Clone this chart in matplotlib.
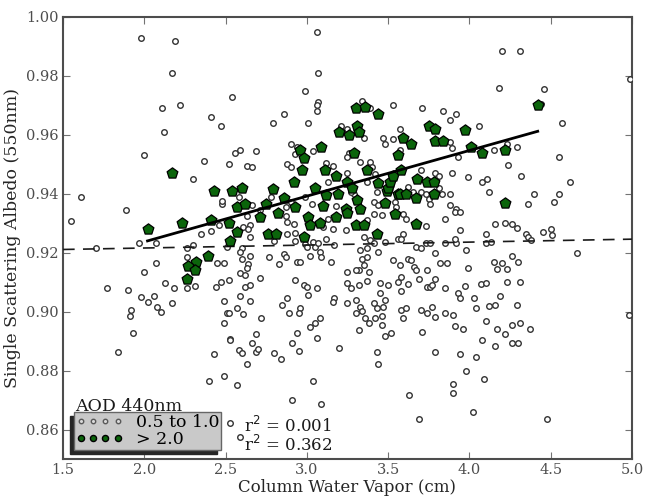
# Single scattering albedo vs column water vapor, coloured by AOD class

import matplotlib
matplotlib.use('Agg')
import matplotlib.pyplot as plt
from matplotlib.lines import Line2D
import numpy as np

# AOD 440nm 0.5 to 1.0 (open circles)
cwv_low = [1.98, 2.19, 2.17, 2.11, 2.22, 2.12, 2.00, 2.54, 2.41, 2.47, 2.37, 2.30, 2.56, 2.59, 2.69,
           2.52, 2.63, 2.66, 2.79, 2.86, 3.06, 3.07, 2.99, 3.07, 3.06, 3.06, 3.01, 2.90, 2.94, 2.93,
           3.04, 2.88, 2.90, 3.12, 3.16, 3.34, 3.39, 3.53, 3.21, 3.25, 3.35, 3.47, 3.48, 3.53, 3.26,
           3.25, 3.33, 3.39, 3.40, 3.13, 3.25, 3.42, 3.37, 3.43, 3.29,
           4.20, 4.31, 4.18, 4.46, 4.44, 4.57, 3.71, 3.84, 3.88, 3.92, 4.06, 3.57, 3.88, 3.89, 3.57,
           3.56, 3.93, 4.15, 4.23, 4.29, 4.24, 4.32, 4.55, 4.62, 3.89, 3.99, 4.08, 4.11, 3.70, 3.79,
           3.81, 4.40, 4.55, 4.12, 3.88, 4.99,
           2.58, 2.48, 2.78, 2.99, 3.03, 3.18,
           3.27, 3.62, 3.65, 3.70, 3.73, 3.81, 3.83, 3.54, 3.55, 3.75, 3.76, 3.88, 3.92, 3.41, 3.44,
           2.48, 2.66, 2.71, 2.87, 2.90, 2.63, 2.65, 2.46, 2.41, 2.35, 2.61, 2.64, 2.87, 2.88, 2.92,
           2.65, 2.80, 2.88, 2.93, 3.10, 3.13, 3.16, 3.12, 3.04, 3.05, 3.07, 2.93, 2.99, 3.00, 3.17,
           2.60, 2.59, 2.51, 2.30, 2.26, 2.26, 2.45, 2.49, 2.60, 2.65, 2.64, 2.77, 2.83, 2.86, 2.87,
           2.94, 2.96, 3.02, 3.08, 3.09, 3.15, 2.59, 2.63, 2.62, 2.71, 2.52, 2.47, 2.44, 2.31, 2.26,
           2.62, 2.65, 2.93, 2.98, 3.00, 3.01, 3.06, 3.17, 3.16, 2.49, 2.59, 2.65, 2.88, 2.85, 2.51,
           2.57, 2.89, 2.96, 2.95, 2.72,
           3.24, 3.41, 3.37, 3.46, 3.59, 3.61, 3.73, 3.85, 3.91, 3.94, 3.94, 4.10, 3.59, 3.56, 3.58,
           3.35, 3.39, 3.41, 3.48, 3.44, 3.37, 3.33, 3.34, 3.35, 3.32, 3.38, 3.37, 3.67, 3.70, 3.73,
           3.76, 3.85, 3.92, 3.91, 3.98, 4.10, 3.79, 3.82, 3.86, 3.53, 3.57, 3.62, 3.64, 3.66, 3.67,
           3.74, 3.99, 3.25, 3.30, 3.37, 3.32, 3.25, 3.27, 3.45, 3.45, 3.50, 3.56, 3.58, 3.58, 3.62,
           3.69, 3.74, 3.76, 3.77, 3.85, 3.79, 3.97, 4.07, 4.10, 3.93, 3.94, 4.03, 3.25, 3.30, 3.33,
           3.41, 3.43, 3.48, 3.47, 3.58, 3.61, 3.70, 3.74, 3.77, 3.85, 3.90, 4.04, 3.46, 3.36,
           4.36, 4.52, 4.16, 4.22, 4.26, 4.29, 4.35, 4.36, 4.38, 4.45, 4.50, 4.51, 4.66, 4.26, 4.30,
           4.23, 4.17, 4.20, 4.15, 4.23, 4.31, 4.19, 4.29, 4.12, 4.16, 4.10, 4.26, 4.31, 4.37, 4.17,
           4.22, 4.08, 4.16, 4.26, 4.30, 3.94, 4.04, 3.79, 3.98, 4.09, 3.90, 3.90, 3.63, 3.69, 4.02,
           4.48, 4.98, 3.43, 3.44, 3.71, 3.52, 3.48, 3.59, 3.32, 3.38, 3.42, 3.46, 3.79, 3.91, 3.96,
           4.13,
           2.52, 2.61, 2.49, 2.53, 2.43, 2.69, 2.66, 2.58, 2.60, 2.69, 2.70, 2.63, 2.80, 2.84, 2.94,
           2.91, 2.95, 3.02, 3.05, 3.08, 3.06, 2.40, 2.49, 2.57, 3.04, 2.91, 3.09, 3.20, 3.30, 3.34,
           2.53, 2.59,
           1.89, 1.97, 2.07, 1.77, 1.90, 2.07, 2.00, 2.13, 2.18, 1.98, 2.02, 2.06, 2.08, 2.10, 1.92,
           1.91, 2.17, 1.93, 1.84, 2.53, 1.55, 1.61, 1.70]
ssa_low = [0.993, 0.992, 0.981, 0.969, 0.970, 0.961, 0.953, 0.973, 0.966, 0.963, 0.951, 0.945, 0.954, 0.955, 0.9545,
           0.950, 0.9496, 0.949, 0.964, 0.967, 0.995, 0.981, 0.975, 0.971, 0.968, 0.970, 0.964, 0.957, 0.956, 0.9535,
           0.9546, 0.950, 0.949, 0.9505, 0.9496, 0.9715, 0.969, 0.970, 0.963, 0.962, 0.959, 0.9588, 0.957, 0.9585, 0.954,
           0.9526, 0.9507, 0.9507, 0.949, 0.944, 0.947, 0.9466, 0.944, 0.9407, 0.940,
           0.9885, 0.9885, 0.976, 0.9755, 0.9705, 0.964, 0.969, 0.968, 0.965, 0.967, 0.963, 0.962, 0.9575, 0.9556, 0.955,
           0.9537, 0.9526, 0.955, 0.957, 0.956, 0.9497, 0.946, 0.9524, 0.944, 0.947, 0.9456, 0.944, 0.945, 0.948, 0.947,
           0.946, 0.940, 0.940, 0.9407, 0.940, 0.979,
           0.939, 0.9365, 0.939, 0.939, 0.9365, 0.936,
           0.9405, 0.9424, 0.9407, 0.9407, 0.940, 0.9418, 0.940, 0.9373, 0.9354, 0.9384, 0.9367, 0.9362, 0.935, 0.9373, 0.9362,
           0.9375, 0.9362, 0.9345, 0.9354, 0.9373, 0.9324, 0.9294, 0.9294, 0.9274, 0.9263, 0.9286, 0.928, 0.9324, 0.9305, 0.9297,
           0.9254, 0.924, 0.9265, 0.9268, 0.9286, 0.9313, 0.9279, 0.9245, 0.9237, 0.922, 0.9232, 0.924, 0.9229, 0.9218, 0.9226,
           0.9215, 0.9203, 0.922, 0.9226, 0.9215, 0.9186, 0.9164, 0.9164, 0.9177, 0.9188, 0.9161, 0.9184, 0.9161, 0.9195, 0.9186,
           0.9169, 0.9169, 0.9188, 0.9203, 0.9186, 0.9169, 0.913, 0.9147, 0.9124, 0.9113, 0.9107, 0.9101, 0.9082, 0.9087, 0.9079,
           0.9084, 0.909, 0.9107, 0.909, 0.9082, 0.9056, 0.9079, 0.9045, 0.9033, 0.9037, 0.9053, 0.9036, 0.9045, 0.9022, 0.8996,
           0.9011, 0.8994, 0.9011, 0.8994, 0.8977,
           0.9277, 0.9333, 0.9311, 0.9328, 0.9331, 0.9313, 0.929, 0.9313, 0.9339, 0.9339, 0.9277, 0.9265, 0.9265, 0.9248, 0.9245,
           0.9254, 0.9243, 0.9234, 0.9237, 0.9203, 0.9215, 0.9209, 0.918, 0.9158, 0.914, 0.9135, 0.9184, 0.922, 0.9215, 0.9234,
           0.9234, 0.9234, 0.9234, 0.9248, 0.9209, 0.9232, 0.9198, 0.9164, 0.9166, 0.9175, 0.9158, 0.918, 0.9175, 0.9152, 0.9141,
           0.9141, 0.9147, 0.9135, 0.914, 0.9105, 0.909, 0.9096, 0.9079, 0.9098, 0.9064, 0.909, 0.9101, 0.9116, 0.9071, 0.9093,
           0.911, 0.9082, 0.9082, 0.909, 0.9079, 0.911, 0.9087, 0.9093, 0.9096, 0.9062, 0.9048, 0.9045, 0.9028, 0.9039, 0.9016,
           0.9028, 0.9014, 0.9039, 0.9016, 0.9007, 0.9014, 0.9007, 0.8994, 0.9016, 0.8994, 0.8988, 0.9011, 0.8985, 0.898,
           0.9365, 0.9373, 0.9297, 0.9302, 0.9297, 0.9283, 0.9265, 0.9254, 0.9243, 0.9269, 0.9279, 0.926, 0.9198, 0.9188, 0.9167,
           0.9144, 0.9144, 0.9166, 0.9167, 0.9101, 0.9101, 0.9054, 0.9021, 0.9019, 0.9022, 0.8968, 0.8954, 0.896, 0.894, 0.894,
           0.8924, 0.8903, 0.8884, 0.8894, 0.8892, 0.8855, 0.8845, 0.8862, 0.8798, 0.8771, 0.8756, 0.8724, 0.8717, 0.8637, 0.8658,
           0.8637, 0.899, 0.8864, 0.8822, 0.8931, 0.8926, 0.8917, 0.898, 0.8937, 0.8962, 0.8977, 0.8954, 0.8982, 0.8952, 0.894,
           0.9237,
           0.8994, 0.8992, 0.8962, 0.8906, 0.8856, 0.8923, 0.8895, 0.8869, 0.886, 0.8864, 0.8872, 0.8824, 0.8858, 0.8838, 0.8926,
           0.8894, 0.8867, 0.8948, 0.8962, 0.8977, 0.8912, 0.8764, 0.8781, 0.875, 0.8764, 0.870, 0.8688, 0.8878, 0.8996, 0.9003,
           0.8622, 0.8575,
           0.9345, 0.9232, 0.9232, 0.9079, 0.9073, 0.9166, 0.9135, 0.9098, 0.9079, 0.905, 0.9033, 0.9053, 0.9016, 0.900, 0.9005,
           0.8985, 0.9028, 0.8928, 0.8862, 0.8903, 0.9308, 0.939, 0.9215]

# AOD 440nm > 2.0 (green pentagons)
cwv_high = [2.02, 2.17, 2.23, 2.41, 2.52, 2.57, 2.53, 2.39, 2.32, 2.27, 2.31, 2.26, 2.43, 2.54, 2.60,
            2.57, 2.62, 2.71, 2.75, 2.79, 2.82, 2.76, 2.81, 2.86, 2.92, 2.93, 2.96, 2.98, 2.97, 2.98,
            3.01, 3.02, 3.05, 3.08, 3.09, 3.10, 3.11, 3.12, 3.18, 3.18, 3.19, 3.20, 3.24, 3.25, 3.25,
            3.26, 3.28, 3.29, 3.30, 3.31, 3.32, 3.31, 3.33, 3.30, 3.35, 3.36, 3.37, 3.44, 3.44, 3.43,
            3.48, 3.49, 3.50, 3.51, 3.53, 3.54, 3.56, 3.56, 3.57, 3.58, 3.59, 3.61, 3.64, 3.67, 3.67,
            3.68, 3.74, 3.75, 3.78, 3.78, 3.79, 3.79, 3.84, 3.97, 4.01, 4.08, 4.22, 4.22, 4.42]
ssa_high = [0.928, 0.947, 0.930, 0.931, 0.930, 0.927, 0.924, 0.919, 0.917, 0.9155, 0.914, 0.911, 0.941, 0.941, 0.942,
            0.9355, 0.9367, 0.932, 0.9367, 0.9415, 0.9335, 0.9265, 0.9265, 0.9385, 0.944, 0.9356, 0.955, 0.952, 0.948, 0.9254,
            0.932, 0.9294, 0.942, 0.930, 0.956, 0.936, 0.948, 0.9395, 0.946, 0.932, 0.940, 0.961, 0.935, 0.944, 0.9335,
            0.960, 0.942, 0.954, 0.969, 0.963, 0.961, 0.938, 0.935, 0.9294, 0.9294, 0.9695, 0.948, 0.967, 0.9435, 0.9265,
            0.937, 0.941, 0.942, 0.944, 0.946, 0.933, 0.953, 0.940, 0.940, 0.948, 0.959, 0.940, 0.957, 0.9385, 0.9297,
            0.945, 0.944, 0.963, 0.944, 0.940, 0.962, 0.958, 0.958, 0.9615, 0.956, 0.954, 0.955, 0.937, 0.970]

# linear fits: slope, intercept, r^2
fit_low = (0.0010, 0.9196, 0.001)
fit_high = (0.0155, 0.8927, 0.362)

xticks = [1.5, 2.0, 2.5, 3.0, 3.5, 4.0, 4.5, 5.0]
yticks = [0.86, 0.88, 0.90, 0.92, 0.94, 0.96, 0.98, 1.00]


def main():
    plt.rcParams['font.family'] = 'DejaVu Serif'

    fig = plt.figure(figsize=(6.48, 4.97), dpi=100)
    ax = fig.add_axes([0.0972, 0.0765, 0.8781, 0.8893])

    ax.scatter(cwv_low, ssa_low, s=16, facecolor='white', edgecolor='0.2', linewidth=1.0, zorder=3)

    xl = np.array([1.5, 5.0])
    ax.plot(xl, fit_low[0] * xl + fit_low[1], color='0.1', ls='--', dashes=(7, 5), lw=1.2, zorder=4)

    ax.scatter(cwv_high, ssa_high, s=66, marker='p', facecolor='#0b650b', edgecolor='black',
               linewidth=0.9, zorder=5)

    xh = np.array([min(cwv_high), max(cwv_high)])
    ax.plot(xh, fit_high[0] * xh + fit_high[1], color='black', lw=2.0, zorder=6)

    ax.set_xlim(1.5, 5.0)
    ax.set_ylim(0.85, 1.0)
    ax.set_xticks(xticks)
    ax.set_xticklabels(['%.1f' % v for v in xticks])
    ax.set_yticks(yticks)
    ax.set_yticklabels(['%.2f' % v for v in yticks])
    ax.tick_params(direction='in', top=True, right=True, length=5, color='0.45',
                   labelsize=10.5, labelcolor='0.3', pad=3)
    for sp in ax.spines.values():
        sp.set_color('0.3')
        sp.set_linewidth(1.5)

    ax.set_xlabel('Column Water Vapor (cm)', fontsize=12, color='0.15', labelpad=1)
    ax.set_ylabel('Single Scattering Albedo (550nm)', fontsize=12.5, color='0.15', labelpad=4)

    h_low = Line2D([], [], ls='none', marker='o', ms=3.2, mfc='0.85', mec='0.35', mew=1.0)
    h_high = Line2D([], [], ls='none', marker='o', ms=4.4, mfc='#0b650b', mec='black', mew=1.0)
    leg = ax.legend([h_low, h_high], ['0.5 to 1.0', '> 2.0'], loc='lower left',
                    bbox_to_anchor=(0.019, 0.02), numpoints=4, handlelength=2.7,
                    handletextpad=0.75, borderaxespad=0, fontsize=12.5, labelspacing=0.0,
                    borderpad=0.12, fancybox=False, framealpha=1,
                    shadow={'ox': -3, 'oy': -3, 'color': '0.15', 'alpha': 1})
    leg.get_frame().set_facecolor('#c9c9c9')
    leg.get_frame().set_edgecolor('0.4')
    leg.set_zorder(10)

    ax.text(0.022, 0.108, 'AOD 440nm', transform=ax.transAxes, fontsize=12.5,
            color='0.1', zorder=10)
    ax.text(0.318, 0.062, 'r$^2$ = %.3f' % fit_low[2], transform=ax.transAxes,
            fontsize=12, color='0.1', zorder=10)
    ax.text(0.318, 0.017, 'r$^2$ = %.3f' % fit_high[2], transform=ax.transAxes,
            fontsize=12, color='0.1', zorder=10)

    fig.savefig('out.png', dpi=100)


if __name__ == "__main__":
    main()
